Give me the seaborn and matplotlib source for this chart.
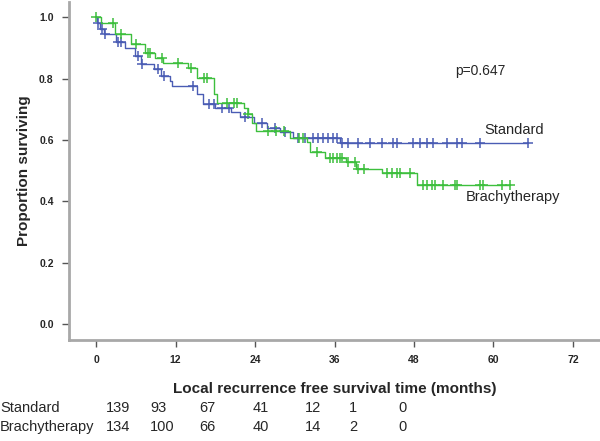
import pandas as pd
import seaborn as sns
import matplotlib.pyplot as plt

# Kaplan-Meier step curves (time in months, proportion surviving)
std_time = [0, 0.2, 0.6, 1.2, 3.0, 4.4, 5.8, 6.8, 8.8, 9.8, 11.2, 11.5, 15.2, 16.2,
            18.0, 20.4, 21.8, 23.8, 25.8, 27.8, 29.8, 36.8]
std_surv = [1.0, 0.983, 0.962, 0.946, 0.918, 0.90, 0.875, 0.849, 0.832, 0.81, 0.793,
            0.777, 0.750, 0.718, 0.706, 0.69, 0.674, 0.657, 0.64, 0.625, 0.608, 0.589]
std_censor = [0.3, 0.9, 1.4, 3.3, 3.8, 6.3, 7.0, 9.3, 10.2, 14.6, 17.0, 17.8, 19.0,
              20.0, 22.5, 25.0, 27.0, 28.5, 30.5, 31.5, 32.8, 33.5, 34.3, 35.0, 35.8,
              36.4, 37.1, 38.0, 39.5, 41.3, 43.1, 44.8, 45.4, 47.8, 48.9, 49.9, 50.9,
              53.0, 54.5, 55.3, 58.0, 65.2]

bra_time = [0, 0.8, 2.9, 5.3, 7.4, 8.9, 10.1, 13.9, 15.3, 17.8, 18.3, 22.4, 22.9,
            23.5, 24.2, 29.3, 31.8, 32.3, 34.5, 37.8, 39.3, 43.2, 48.4]
bra_surv = [1.0, 0.98, 0.946, 0.914, 0.885, 0.868, 0.852, 0.836, 0.803, 0.751, 0.722,
            0.706, 0.686, 0.657, 0.628, 0.608, 0.592, 0.56, 0.543, 0.527, 0.507, 0.494,
            0.452]
bra_censor = [0.0, 2.6, 3.8, 6.0, 7.8, 8.2, 10.0, 12.3, 14.3, 16.3, 16.8, 19.8, 20.8,
              21.2, 23.0, 26.0, 27.2, 28.3, 30.7, 31.3, 33.3, 35.3, 35.8, 36.4, 36.8,
              37.1, 38.0, 39.1, 39.5, 40.5, 43.9, 44.7, 45.4, 45.9, 47.4, 49.4, 50.0,
              50.7, 51.2, 52.4, 54.2, 54.5, 58.0, 58.4, 61.3, 62.5]

groups = ["Standard", "Brachytherapy"]
risk_times = [0, 12, 24, 36, 48, 60, 72]
risk_std = [139, 93, 67, 41, 12, 1, 0]
risk_bra = [134, 100, 66, 40, 14, 2, 0]
p_text = "p=0.647"

colors = {"Standard": "#4a5cb4", "Brachytherapy": "#3dbf3d"}


def surv_at(times, surv, t):
    s = surv[0]
    for ti, si in zip(times, surv):
        if ti <= t:
            s = si
    return s


curves = []
marks = []
for name, t, s, c in [("Standard", std_time, std_surv, std_censor),
                      ("Brachytherapy", bra_time, bra_surv, bra_censor)]:
    tt = t + [max(c)]
    ss = s + [s[-1]]
    curves.append(pd.DataFrame({"time": tt, "surv": ss, "group": name}))
    marks.append(pd.DataFrame({"time": c, "surv": [surv_at(t, s, x) for x in c],
                               "group": name}))
curves = pd.concat(curves)
marks = pd.concat(marks)

sns.set_style("white")
plt.rcParams["font.family"] = ["Liberation Sans", "DejaVu Sans"]

fig = plt.figure(figsize=(6, 4.41), dpi=100)
ax = fig.add_axes([69 / 600, 1 - 340 / 441, 531 / 600, 338 / 441])

for name in groups:
    d = curves[curves["group"] == name]
    sns.lineplot(data=d, x="time", y="surv", color=colors[name], lw=1.0,
                 drawstyle="steps-post", ax=ax, estimator=None, sort=False)
    m = marks[marks["group"] == name]
    sns.scatterplot(data=m, x="time", y="surv", color=colors[name], marker="+",
                    s=42, linewidth=1.1, ax=ax, legend=False)

ax.set_xlim(-4.1, 76.1)
ax.set_ylim(-0.052, 1.05)
ax.set_xticks(risk_times)
ax.set_yticks([0.0, 0.2, 0.4, 0.6, 0.8, 1.0])
ax.set_yticklabels(["0.0", "0.2", "0.4", "0.6", "0.8", "1.0"])
for lab in ax.get_xticklabels() + ax.get_yticklabels():
    lab.set_fontweight("bold")
    lab.set_fontsize(7.5)
ax.tick_params(bottom=True, left=True, direction="out", length=5, width=1,
               color="#555555", pad=6)
for side in ["top", "right"]:
    ax.spines[side].set_visible(False)
for side in ["left", "bottom"]:
    ax.spines[side].set_color("#a8a8a8")
    ax.spines[side].set_linewidth(2)

ax.set_xlabel("Local recurrence free survival time (months)", fontsize=11,
              fontweight="bold", labelpad=12)
ax.set_ylabel("Proportion surviving", fontsize=11, fontweight="bold", labelpad=6)

ax.text(54.3, 0.826, p_text, fontsize=10, va="center")
ax.text(58.7, 0.634, "Standard", fontsize=10.5, va="center")
ax.text(55.8, 0.413, "Brachytherapy", fontsize=10.5, va="center")

# numbers at risk table under the axis
col_px = [106, 150, 199, 253, 305, 349, 398]
for row_y, name, vals in [(408, groups[0], risk_std), (427, groups[1], risk_bra)]:
    fig.text(0.0, 1 - row_y / 441, name, fontsize=10.5, va="center")
    for x, v in zip(col_px, vals):
        fig.text(x / 600, 1 - row_y / 441, str(v), fontsize=10.5, va="center")

fig.savefig("out.png", dpi=100)
